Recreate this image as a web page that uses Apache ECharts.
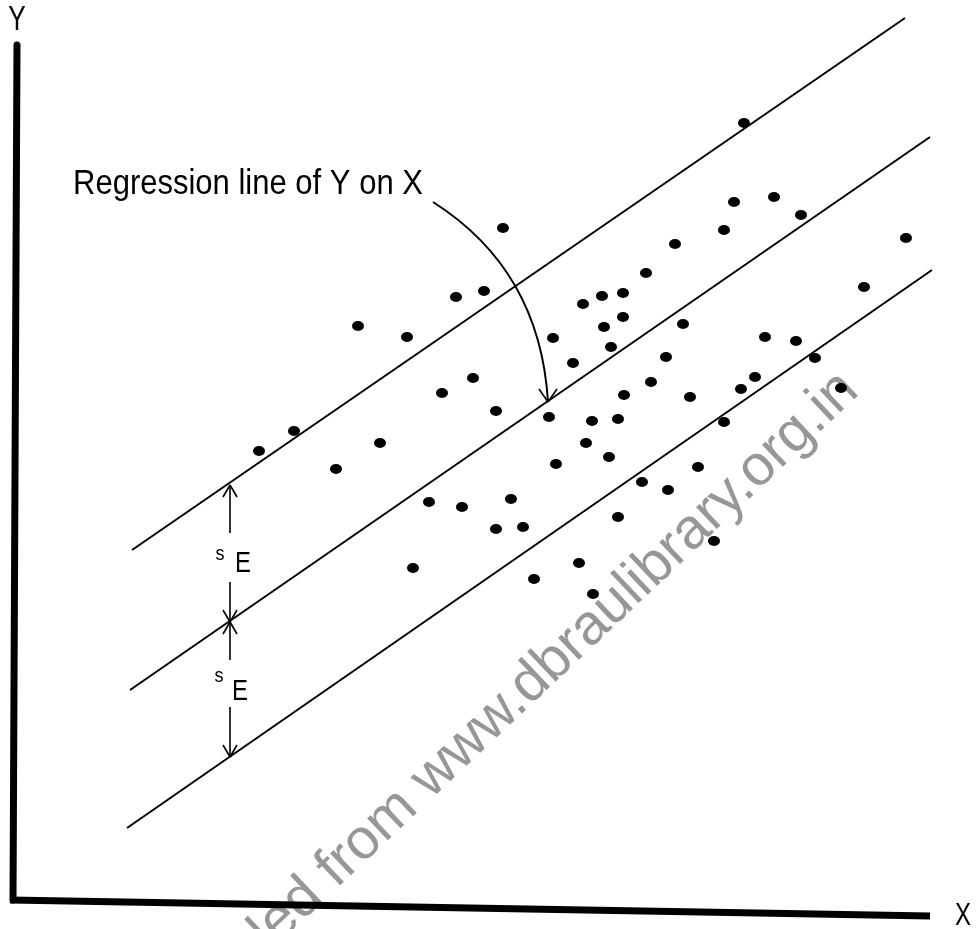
<!DOCTYPE html>
<html>
<head>
<meta charset="utf-8">
<script src="https://cdn.jsdelivr.net/npm/echarts@6/dist/echarts.min.js"></script>
<style>html,body{margin:0;padding:0;background:#fff;}#c{width:977px;height:929px;}</style>
</head>
<body>
<div id="c"></div>
<script>
// ---- data (abstract X / Y units) ----
const dotX = [72.9,71.9,75.9,78.6,70.9,66.0,63.1,48.8,44.1,46.9,56.8,58.7,60.8,60.8,58.9,59.6,53.8,55.8,34.3,39.2,66.8,65.1,63.6,60.9,89.1,84.9,75.0,78.1,80.0,74.0,72.6,82.6,67.5,70.9,42.7,45.8,48.1,53.4,57.7,60.3,57.1,59.4,54.1,68.3,62.7,65.3,60.3,69.9,27.9,24.4,36.5,32.1,41.4,44.7,49.6,48.1,50.8,39.8,51.9,56.4,57.8];
const dotY = [77.7,69.8,70.3,68.5,67.0,65.6,62.7,67.2,60.3,60.9,59.6,60.4,60.7,58.3,57.3,55.3,56.2,53.7,57.4,56.3,57.6,54.3,51.8,50.5,66.2,61.3,56.3,55.9,54.2,52.3,51.1,51.2,50.3,47.8,50.7,52.2,48.9,48.3,47.9,48.1,45.7,44.3,43.6,43.3,41.8,41.0,38.3,35.9,46.9,44.9,45.7,43.1,39.8,39.3,40.1,37.1,37.3,33.2,32.1,33.7,30.6];
const upperLine  = [[11.7, 35.0], [89.0, 88.2]];
const middleLine = [[11.5, 21.0], [91.5, 76.3]];
const lowerLine  = [[11.2, 7.2], [91.7, 63.0]];
const yAxisLine  = [[0.2, 85.5], [-0.2, 0.0]];
const xAxisLine  = [[-0.5, 0.0], [91.5, -1.6]];
const axisNames  = ['Y', 'X'];
const caption    = 'Regression line of Y on X';
const bandLabel  = ['s', 'E'];
const watermark  = 'Downloaded from www.dbraulibrary.org.in';

const font = '"Liberation Sans", Arial, sans-serif';
const chart = echarts.init(document.getElementById('c'));

function lineSeries(data, width, cap) {
  return {
    type: 'line', data: data, symbol: 'none', silent: true, clip: false,
    lineStyle: { color: '#000', width: width, cap: cap || 'butt' }, z: 2
  };
}

function renderAnno(params, api) {
  const c = p => api.coord(p);
  const seg = (a, b) => {
    const p = c(a), q = c(b);
    return { type: 'line', shape: { x1: p[0], y1: p[1], x2: q[0], y2: q[1] },
             style: { stroke: '#000', lineWidth: 1.6 } };
  };
  const b0 = c([41.8, 69.8]), bc = c([52.5, 63.0]), b1 = c([53.3, 49.8]);
  const ax = 21.5;
  return {
    type: 'group',
    children: [
      { type: 'bezierCurve',
        shape: { x1: b0[0], y1: b0[1], cpx1: bc[0], cpy1: bc[1], x2: b1[0], y2: b1[1] },
        style: { stroke: '#000', lineWidth: 2, fill: null } },
      seg([52.4, 51.1], [53.3, 49.8]), seg([54.2, 51.1], [53.3, 49.8]),
      seg([ax, 41.5], [ax, 36.7]), seg([ax, 31.8], [ax, 27.8]),
      seg([ax, 27.8], [ax, 24.0]), seg([ax, 19.3], [ax, 14.3]),
      seg([20.8, 40.3], [ax, 41.5]), seg([22.2, 40.3], [ax, 41.5]),
      seg([20.8, 29.0], [ax, 27.8]), seg([22.2, 29.0], [ax, 27.8]),
      seg([20.8, 26.6], [ax, 27.8]), seg([22.2, 26.6], [ax, 27.8]),
      seg([20.8, 15.5], [ax, 14.3]), seg([22.2, 15.5], [ax, 14.3])
    ]
  };
}

chart.setOption({
  animation: false,
  backgroundColor: '#fff',
  grid: { left: 5, right: 42, top: 0, bottom: 9 },
  xAxis: { type: 'value', min: -1, max: 92, show: false },
  yAxis: { type: 'value', min: -2, max: 90, show: false },
  series: [
    lineSeries(yAxisLine, 7, 'round'),
    lineSeries(xAxisLine, 7, 'butt'),
    lineSeries(upperLine, 2),
    lineSeries(middleLine, 2),
    lineSeries(lowerLine, 2),
    {
      type: 'scatter', symbol: 'circle', symbolSize: [12, 10], silent: true,
      itemStyle: { color: '#000', opacity: 1 }, z: 3,
      data: dotX.map((x, i) => [x, dotY[i]])
    },
    {
      type: 'custom', renderItem: renderAnno, data: [[0, 0]], clip: false, silent: true, z: 4
    }
  ]
});

// text annotations placed through the chart's own coordinate conversion
function label(p, s, size, sx, align) {
  const q = chart.convertToPixel({ gridIndex: 0 }, p);
  return { type: 'text', x: q[0], y: q[1], scaleX: sx, scaleY: 1, z: 10, silent: true,
           style: { text: s, fontSize: size, fontFamily: font, fill: '#000',
                    align: align || 'center', verticalAlign: 'middle' } };
}
chart.setOption({
  graphic: [
    { type: 'text', x: 84, y: 1106, rotation: 43.4 * Math.PI / 180, z: 0, silent: true,
      style: { text: watermark, fontSize: 57, fontFamily: font,
               fill: 'rgba(125,125,125,0.8)', align: 'left', verticalAlign: 'middle' } },
    label([5.8, 71.6], caption, 35, 0.886, 'left'),
    label([0.2, 88.0], axisNames[0], 35, 0.75),
    label([94.8, -1.6], axisNames[1], 32, 0.75),
    label([20.5, 34.6], bandLabel[0], 20, 0.9),
    label([22.8, 33.6], bandLabel[1], 30, 0.8),
    label([20.4, 22.4], bandLabel[0], 20, 0.9),
    label([22.5, 20.8], bandLabel[1], 30, 0.8)
  ]
});
</script>
</body>
</html>
